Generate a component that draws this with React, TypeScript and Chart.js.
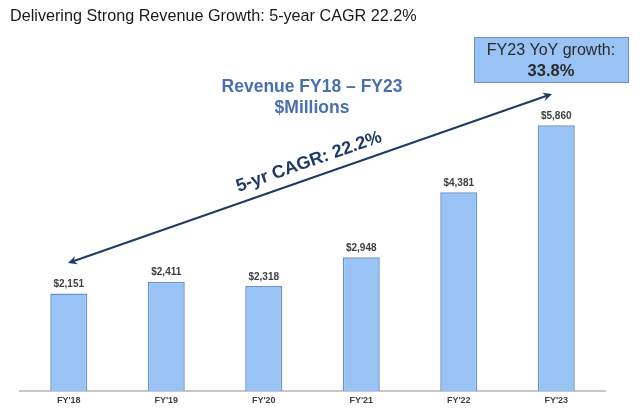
import React, { useEffect, useRef } from "react";
import { Chart, registerables } from "chart.js";

Chart.register(...registerables);

const categories = ["FY'18", "FY'19", "FY'20", "FY'21", "FY'22", "FY'23"];
const revenue = [2151, 2411, 2318, 2948, 4381, 5860];
const valueLabels = ["$2,151", "$2,411", "$2,318", "$2,948", "$4,381", "$5,860"];
const titleText = "Delivering Strong Revenue Growth: 5-year CAGR 22.2%";
const subtitleLines = ["Revenue FY18 \u2013 FY23", "$Millions"];
const cagrText = "5-yr CAGR: 22.2%";
const boxLines = ["FY23 YoY growth:", "33.8%"];

const FONT = "'Liberation Sans', Arial, Helvetica, sans-serif";

const annotations = {
  id: "annotations",
  afterDatasetsDraw(chart: any) {
    const ctx = chart.ctx as CanvasRenderingContext2D;
    ctx.save();
    // value labels
    const meta = chart.getDatasetMeta(0);
    ctx.fillStyle = "#404040";
    ctx.font = `bold 10px ${FONT}`;
    ctx.textAlign = "center";
    ctx.textBaseline = "bottom";
    meta.data.forEach((bar: any, i: number) => {
      ctx.fillText(valueLabels[i], bar.x, bar.y - 4);
    });

    // title
    ctx.fillStyle = "#1a1a1a";
    ctx.font = `16.2px ${FONT}`;
    ctx.textAlign = "left";
    ctx.textBaseline = "alphabetic";
    ctx.fillText(titleText, 10, 21);

    // subtitle
    ctx.fillStyle = "#4A70AE";
    ctx.font = `bold 17.5px ${FONT}`;
    ctx.textAlign = "center";
    ctx.textBaseline = "middle";
    ctx.fillText(subtitleLines[0], 312, 87);
    ctx.fillText(subtitleLines[1], 312, 108);

    // box
    ctx.fillStyle = "#99C2F5";
    ctx.fillRect(474, 37, 155, 46);
    ctx.strokeStyle = "#6E90C6";
    ctx.lineWidth = 1;
    ctx.strokeRect(474.5, 37.5, 154, 45);
    ctx.fillStyle = "#2b2b2b";
    ctx.font = `16px ${FONT}`;
    ctx.fillText(boxLines[0], 551, 51);
    ctx.font = `bold 16.5px ${FONT}`;
    ctx.fillText(boxLines[1], 551, 71);

    // arrow
    const x1 = 68, y1 = 263, x2 = 552, y2 = 94;
    const ang = Math.atan2(y2 - y1, x2 - x1);
    ctx.strokeStyle = "#1F3A63";
    ctx.fillStyle = "#1F3A63";
    ctx.lineWidth = 2;
    ctx.beginPath();
    ctx.moveTo(x1 + 4 * Math.cos(ang), y1 + 4 * Math.sin(ang));
    ctx.lineTo(x2 - 4 * Math.cos(ang), y2 - 4 * Math.sin(ang));
    ctx.stroke();
    const head = (x: number, y: number, a: number) => {
      ctx.beginPath();
      ctx.moveTo(x, y);
      ctx.lineTo(x - 10 * Math.cos(a - 0.45), y - 10 * Math.sin(a - 0.45));
      ctx.lineTo(x - 6 * Math.cos(a), y - 6 * Math.sin(a));
      ctx.lineTo(x - 10 * Math.cos(a + 0.45), y - 10 * Math.sin(a + 0.45));
      ctx.closePath();
      ctx.fill();
    };
    head(x2, y2, ang);
    head(x1, y1, ang + Math.PI);

    // CAGR text
    ctx.save();
    ctx.translate(309, 162);
    ctx.rotate(ang);
    ctx.fillStyle = "#1F3A63";
    ctx.font = `bold 18px ${FONT}`;
    ctx.textAlign = "center";
    ctx.textBaseline = "middle";
    ctx.fillText(cagrText, 0, 0);
    ctx.restore();

    ctx.restore();
  },
};

export default function App() {
  const ref = useRef<HTMLCanvasElement>(null);
  useEffect(() => {
    document.body.style.margin = "0";
    const chart = new Chart(ref.current!, {
      type: "bar",
      data: {
        labels: categories,
        datasets: [
          {
            data: revenue,
            backgroundColor: "#99C2F5",
            borderColor: "#6A92CB",
            borderWidth: 1.5,
            barPercentage: 0.38,
            categoryPercentage: 1,
          },
        ],
      },
      options: {
        animation: false,
        responsive: false,
        layout: { padding: { left: 20, right: 35, top: 28, bottom: 0 } },
        plugins: { legend: { display: false }, tooltip: { enabled: false } },
        scales: {
          x: {
            grid: { display: false, drawTicks: false },
            border: { display: true, color: "#C8C8C8", width: 2 },
            ticks: {
              color: "#404040",
              font: { family: FONT, size: 9, weight: "bold" },
              padding: 4,
              maxRotation: 0,
            },
          },
          y: {
            display: false,
            min: 0,
            max: 8000,
          },
        },
      },
      plugins: [annotations],
    });
    return () => chart.destroy();
  }, []);
  return (
    <div style={{ width: 640, height: 410 }}>
      <canvas ref={ref} width={640} height={410} />
    </div>
  );
}
